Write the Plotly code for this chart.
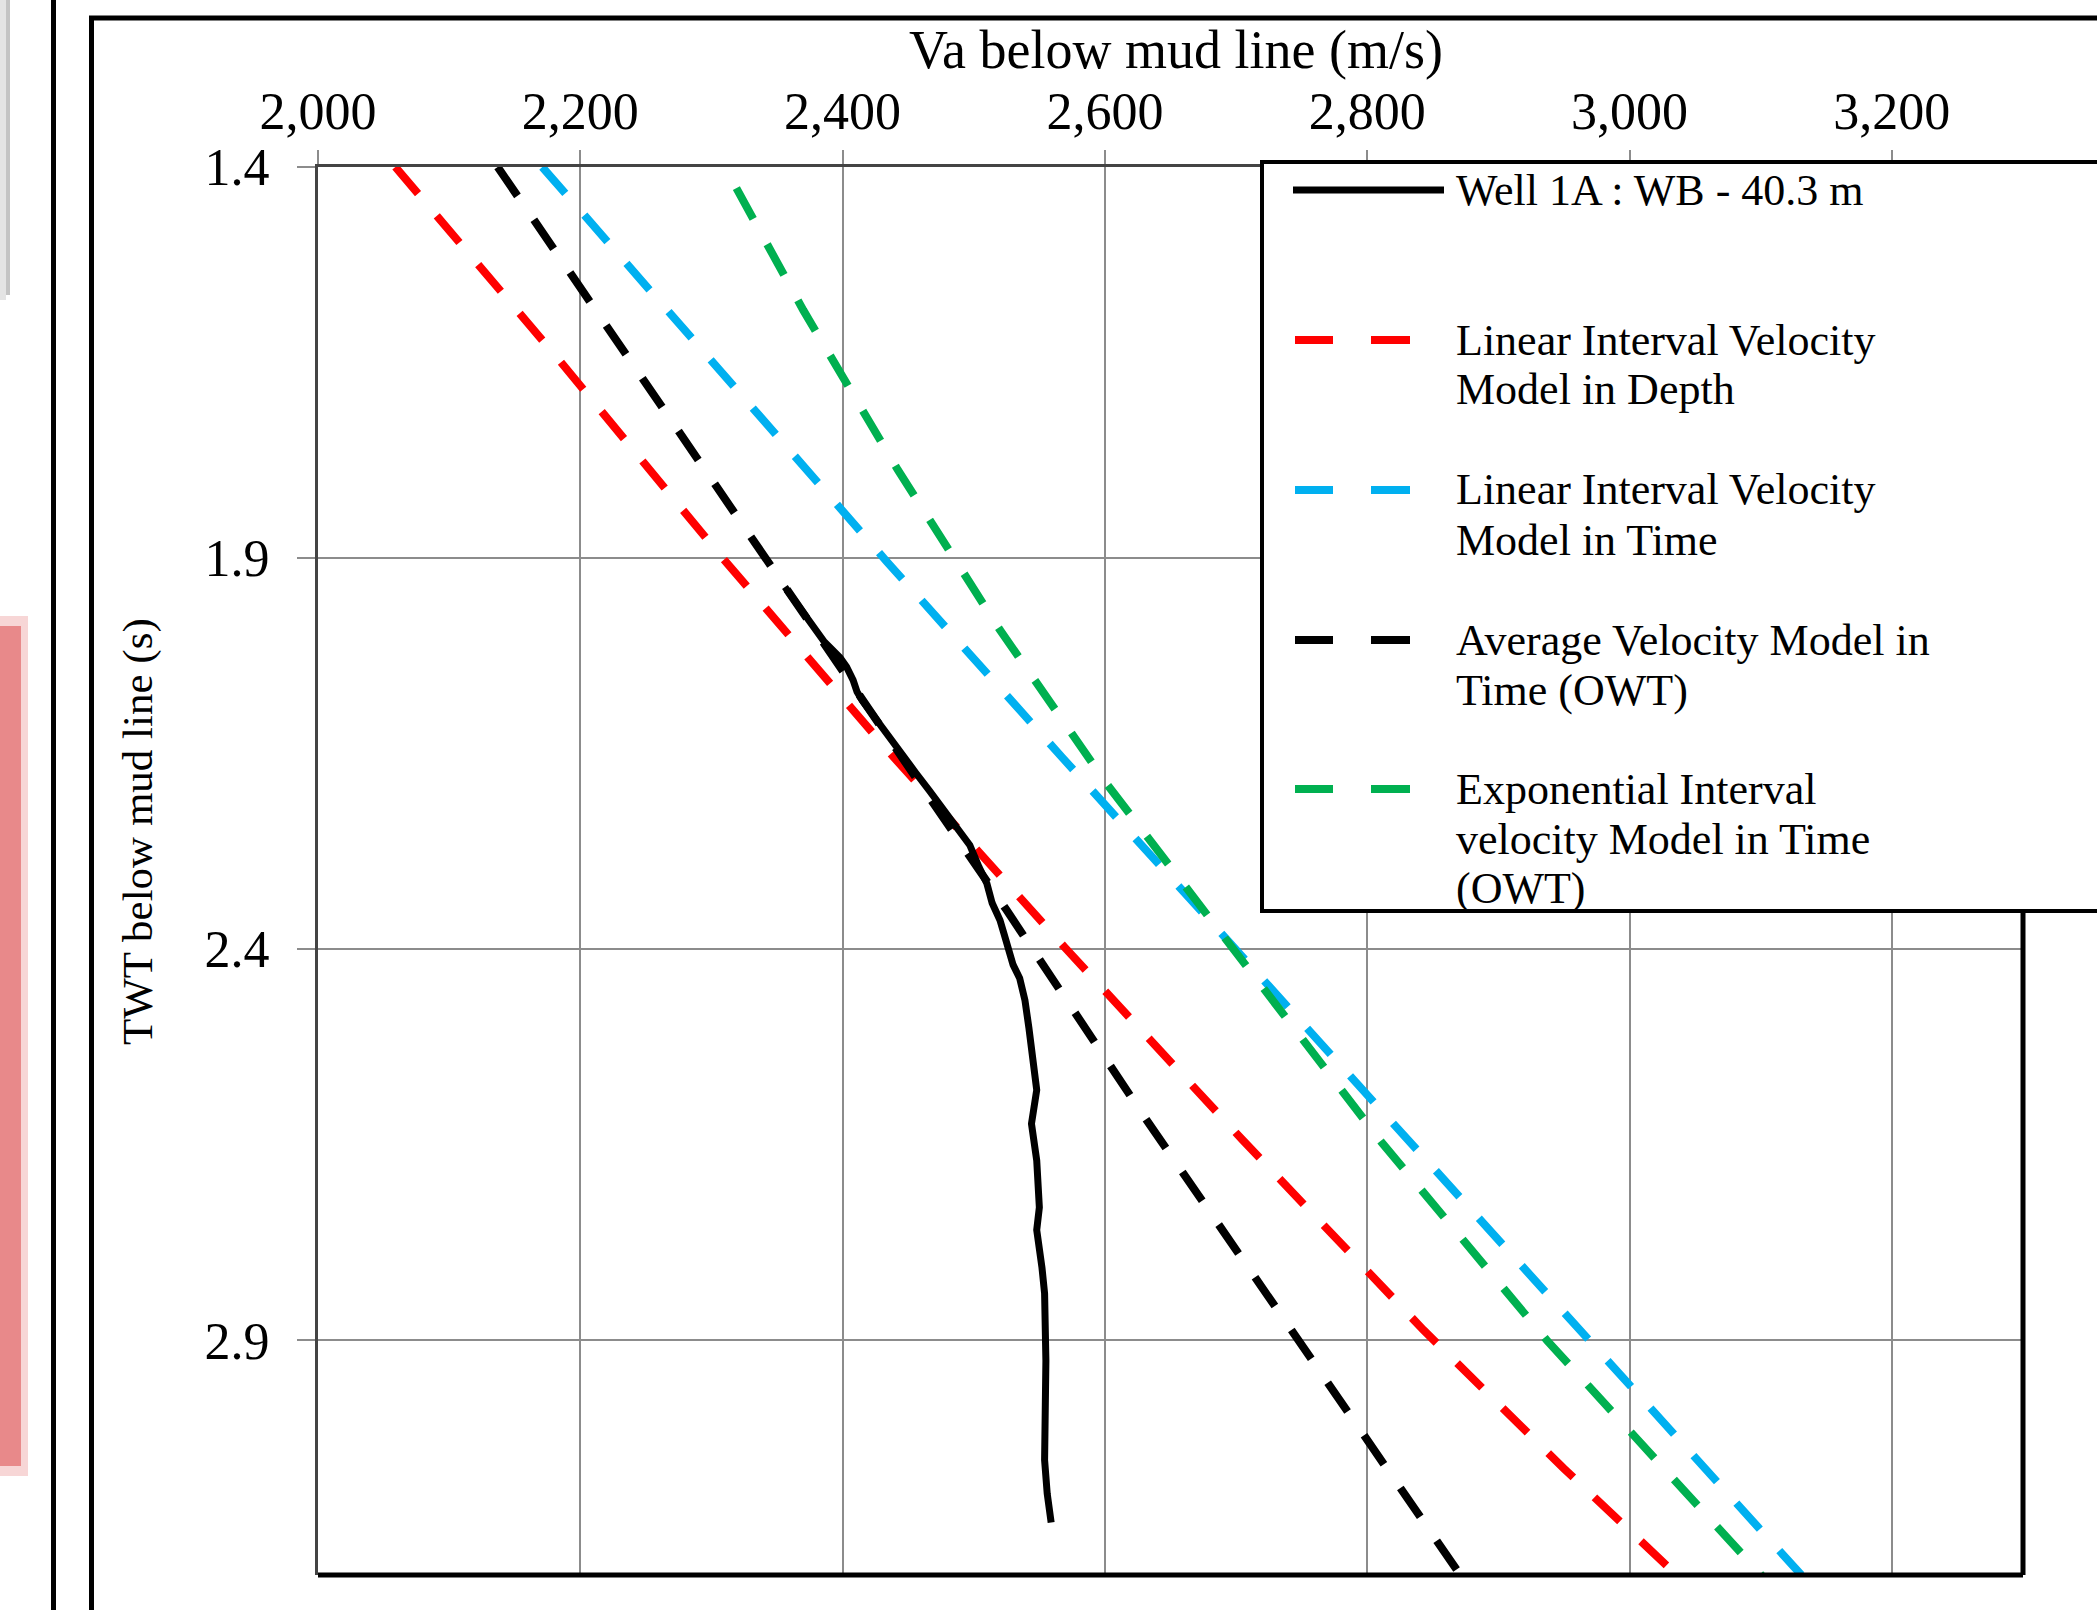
import plotly.graph_objects as go

# ---------------- data ----------------
twt_well = [1.937, 1.963, 1.988, 2.007, 2.027, 2.039, 2.056, 2.071, 2.082, 2.107, 2.133, 2.154,
            2.175, 2.197, 2.220, 2.244, 2.267, 2.295, 2.316, 2.341, 2.363, 2.380, 2.404, 2.420,
            2.437, 2.465, 2.500, 2.533, 2.568, 2.580, 2.623, 2.670, 2.730, 2.759, 2.807, 2.840,
            2.926, 3.011, 3.053, 3.096, 3.133]
va_well = [2356, 2367, 2377, 2386, 2398, 2403, 2408, 2411, 2415, 2426, 2436, 2446,
           2456, 2466, 2476, 2487, 2497, 2504, 2510, 2514, 2520, 2523, 2527, 2530,
           2535, 2539, 2542, 2545, 2548, 2548, 2544, 2548, 2550, 2548, 2552, 2554,
           2555, 2555, 2554, 2556, 2559]

twt_lin_depth = [1.40, 1.643, 1.899, 2.149, 2.397, 2.644, 2.887, 3.064, 3.20]
va_lin_depth = [2059, 2182, 2308, 2436, 2569, 2705, 2843, 2950, 3036]

twt_lin_time = [1.40, 1.656, 1.905, 2.154, 2.401, 2.648, 2.897, 3.143, 3.20]
va_lin_time = [2171, 2304, 2434, 2567, 2700, 2834, 2968, 3101, 3131]

twt_avg = [1.40, 1.617, 1.881, 2.350, 2.619, 2.885, 3.152, 3.20]
va_avg = [2137, 2226, 2334, 2525, 2632, 2741, 2850, 2871]

twt_exp = [1.427, 1.583, 1.787, 1.992, 2.190, 2.388, 2.647, 2.900, 3.147, 3.203]
va_exp = [2319, 2370, 2442, 2520, 2602, 2693, 2811, 2937, 3070, 3102]

x_ticks = [2000, 2200, 2400, 2600, 2800, 3000, 3200]
y_ticks = [1.4, 1.9, 2.4, 2.9]

x_title = "Va below mud line (m/s)"
y_title = "TWT below mud line (s)"

legend_entries = [
    ("Well 1A : WB - 40.3 m", "#000000", "solid", ["Well 1A : WB - 40.3 m"]),
    ("Linear Interval Velocity Model in Depth", "#FF0000", "dash",
     ["Linear Interval Velocity", "Model in Depth"]),
    ("Linear Interval Velocity Model in Time", "#00B0F0", "dash",
     ["Linear Interval Velocity", "Model in Time"]),
    ("Average Velocity Model in Time (OWT)", "#000000", "dash",
     ["Average Velocity Model in", "Time (OWT)"]),
    ("Exponential Interval velocity Model in Time (OWT)", "#00B050", "dash",
     ["Exponential Interval", "velocity Model in Time", "(OWT)"]),
]

# ---------------- layout geometry (pixels) ----------------
W, H = 2097, 1610
PL, PR, PT, PB = 318, 2023, 167, 1575
FONT = "Liberation Serif"


def px(xp):
    return (xp - PL) / (PR - PL)


def py(yp):
    return (PB - yp) / (PB - PT)


DASH = "35px,29px"

fig = go.Figure()
series = [
    (twt_lin_depth, va_lin_depth, legend_entries[1]),
    (twt_lin_time, va_lin_time, legend_entries[2]),
    (twt_exp, va_exp, legend_entries[4]),
    (twt_avg, va_avg, legend_entries[3]),
]
for t, v, (name, col, _, _) in series:
    fig.add_trace(go.Scatter(x=v, y=t, mode="lines", name=name, showlegend=False,
                             line=dict(color=col, width=8, dash=DASH)))
fig.add_trace(go.Scatter(x=va_well, y=twt_well, mode="lines", name=legend_entries[0][0],
                         showlegend=False, line=dict(color="#000000", width=7)))

grid = "#8c8c8c"
fig.update_xaxes(range=[2000, 3300], side="top", tickvals=x_ticks, tickformat=",d",
                 showgrid=True, gridcolor=grid, gridwidth=2, zeroline=False,
                 ticks="outside", ticklen=14, tickwidth=2, tickcolor=grid,
                 showline=True, linecolor="#444444", linewidth=3,
                 tickfont=dict(family=FONT, size=52, color="#000000"))
fig.update_yaxes(range=[3.2, 1.4], tickvals=y_ticks, tickformat=".1f",
                 showgrid=True, gridcolor=grid, gridwidth=2, zeroline=False,
                 ticks="outside", ticklen=18, tickwidth=2, tickcolor=grid,
                 ticklabelstandoff=17,
                 showline=True, linecolor="#444444", linewidth=3,
                 tickfont=dict(family=FONT, size=52, color="#000000"))

shapes = []
# screenshot frame decorations
shapes.append(dict(type="rect", xref="paper", yref="paper", x0=px(0), x1=px(6), y0=py(300), y1=py(0),
                   fillcolor="#e4e4e4", line=dict(width=0), layer="above"))
shapes.append(dict(type="rect", xref="paper", yref="paper", x0=px(6), x1=px(10), y0=py(295), y1=py(0),
                   fillcolor="#c4c4c4", line=dict(width=0), layer="above"))
shapes.append(dict(type="rect", xref="paper", yref="paper", x0=px(0), x1=px(28), y0=py(1476), y1=py(616),
                   fillcolor="rgba(232,137,138,0.35)", line=dict(width=0), layer="above"))
shapes.append(dict(type="rect", xref="paper", yref="paper", x0=px(0), x1=px(21), y0=py(1466), y1=py(626),
                   fillcolor="#e8898a", line=dict(width=0), layer="above"))
shapes.append(dict(type="line", xref="paper", yref="paper", x0=px(53.5), x1=px(53.5), y0=py(0), y1=py(H + 5),
                   line=dict(color="#000000", width=5), layer="above"))
shapes.append(dict(type="line", xref="paper", yref="paper", x0=px(91.5), x1=px(91.5), y0=py(16), y1=py(H + 5),
                   line=dict(color="#000000", width=5), layer="above"))
shapes.append(dict(type="line", xref="paper", yref="paper", x0=px(89), x1=px(W + 5), y0=py(18), y1=py(18),
                   line=dict(color="#000000", width=5), layer="above"))
# bottom and right plot borders
shapes.append(dict(type="line", xref="paper", yref="paper", x0=0, x1=1, y0=0, y1=0,
                   line=dict(color="#000000", width=5), layer="above"))
shapes.append(dict(type="line", xref="paper", yref="paper", x0=1, x1=1, y0=0, y1=1,
                   line=dict(color="#000000", width=5), layer="above"))
# legend box
shapes.append(dict(type="rect", xref="paper", yref="paper", x0=px(1262), x1=px(2300), y0=py(911), y1=py(162),
                   fillcolor="#ffffff", line=dict(color="#000000", width=4), layer="above"))

annotations = []
legend_rows = [190, 340, 490, 640, 789]
for (name, col, style, lines), y0 in zip(legend_entries, legend_rows):
    if style == "solid":
        shapes.append(dict(type="line", xref="paper", yref="paper", x0=px(1293), x1=px(1444),
                           y0=py(y0), y1=py(y0), line=dict(color=col, width=7), layer="above"))
    else:
        for a, b in [(1295, 1333), (1371, 1410)]:
            shapes.append(dict(type="line", xref="paper", yref="paper", x0=px(a), x1=px(b),
                               y0=py(y0), y1=py(y0), line=dict(color=col, width=8), layer="above"))
    for k, ln in enumerate(lines):
        annotations.append(dict(xref="paper", yref="paper", x=px(1455), y=py(y0 + 50 * k),
                                xanchor="left", yanchor="middle", showarrow=False, text=ln,
                                borderpad=0,
                                font=dict(family=FONT, size=44, color="#000000")))

annotations.append(dict(xref="paper", yref="paper", x=px(1176), y=py(50), xanchor="center",
                        yanchor="middle", showarrow=False, text=x_title,
                        font=dict(family=FONT, size=54, color="#000000")))
annotations.append(dict(xref="paper", yref="paper", x=px(138), y=py(832), xanchor="center",
                        yanchor="middle", showarrow=False, text=y_title, textangle=-90,
                        font=dict(family=FONT, size=43, color="#000000")))

fig.update_layout(width=W, height=H, paper_bgcolor="#ffffff", plot_bgcolor="#ffffff",
                  margin=dict(l=PL, r=W - PR, t=PT, b=H - PB, autoexpand=False),
                  showlegend=False, shapes=shapes, annotations=annotations)

fig.write_html("out.html", config={"displayModeBar": False},
               post_script="document.body.style.margin='0';document.body.style.overflow='hidden';")
